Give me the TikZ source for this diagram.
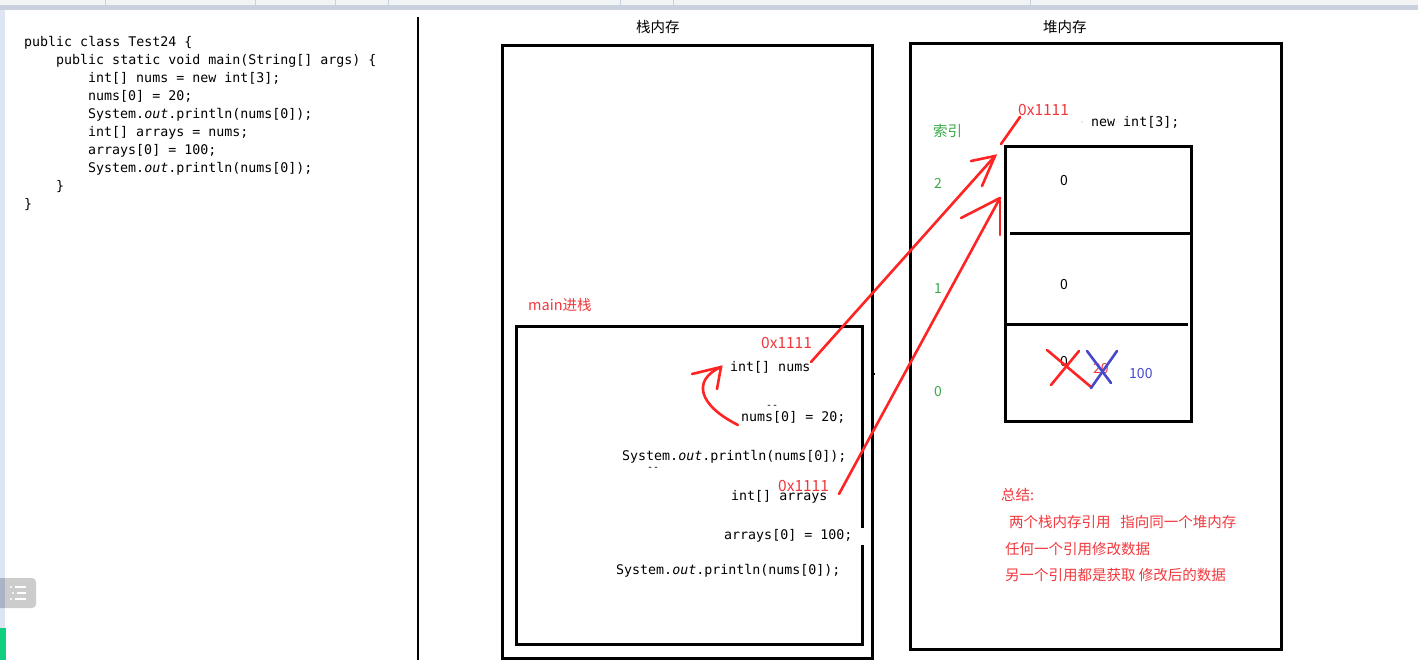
\documentclass[tikz,border=0pt]{standalone}
\usepackage{fontspec}
\setmainfont{Noto Sans CJK SC}
\newfontfamily\codefont{DejaVu Sans Mono}
\newfontfamily\cjkfont{Noto Sans CJK SC}
\definecolor{penred}{HTML}{FF2424}
\definecolor{txtred}{HTML}{F2383C}
\definecolor{idxgreen}{HTML}{3AAA48}
\definecolor{penblue}{HTML}{4848CC}
\definecolor{chromegrey}{HTML}{F2F3F5}
\definecolor{chromeline}{HTML}{C9D1DF}
\definecolor{chromeside}{HTML}{DCE5F1}
\definecolor{chromedark}{HTML}{AAB4C6}
\definecolor{barGreen}{HTML}{10D080}
\tikzset{
  codetxt/.style={font=\codefont\fontsize{13.3}{16}\selectfont, anchor=west, inner sep=0pt, text height=9.5pt, text depth=2.5pt},
  cjktxt/.style={font=\cjkfont\fontsize{14.5}{17}\selectfont, anchor=west, inner sep=0pt, text height=10.5pt, text depth=3pt},
  numtxt/.style={font=\cjkfont\fontsize{14}{17}\selectfont, anchor=west, inner sep=0pt, text height=10pt, text depth=2pt},
  addrtxt/.style={font=\cjkfont\fontsize{15.5}{18}\selectfont, anchor=west, inner sep=0pt, text height=11pt, text depth=2pt, text=txtred},
  dashtxt/.style={font=\codefont\fontsize{10}{12}\selectfont, anchor=west, inner sep=0pt},
  frame/.style={draw=black, line width=3pt},
  pen/.style={draw=penred, line width=2.6pt, line cap=round},
  bluepen/.style={draw=penblue, line width=2.6pt, line cap=round},
}
\begin{document}
\begin{tikzpicture}[x=1pt,y=-1pt]
\useasboundingbox (0,0) rectangle (1418,660);
\fill[white] (0,0) rectangle (1418,660);
% screenshot chrome
\fill[chromegrey] (0,0) rectangle (1418,5);
\fill[chromeline] (0,5) rectangle (1418,10);
\foreach \xx in {105,255,335,388,620,673,1030}
  \draw[chromeline, line width=0.8pt] (\xx,0) -- (\xx,5);
\fill[chromeside] (0,10) rectangle (5,660);
\fill[black!20, rounded corners=4pt] (-6,578) rectangle (36,608);
\fill[chromedark] (0,578) rectangle (5,608);
\foreach \yy/\dx in {587/0,593/2,599/0}{
  \fill[white] (11+\dx,\yy) circle (1.2);
  \draw[white, line width=1.6pt] (15+\dx,\yy) -- (26,\yy);
}
\fill[barGreen] (0,628) rectangle (6,660);

% separator
\draw[black, line width=2.6pt] (418,17) -- (418,660);

% source code
\node[codetxt] (c1) at (24,43) {public class Test24 \{};
\node[codetxt] (c2) at (56,61) {public static void main(String[] args) \{};
\node[codetxt] (c3) at (88,79) {int[] nums = new int[3];};
\node[codetxt] (c4) at (88,97) {nums[0] = 20;};
\node[codetxt] (c5) at (88,115) {System.\textit{out}.println(nums[0]);};
\node[codetxt] (c6) at (88,133) {int[] arrays = nums;};
\node[codetxt] (c7) at (88,151) {arrays[0] = 100;};
\node[codetxt] (c8) at (88,169) {System.\textit{out}.println(nums[0]);};
\node[codetxt] (c9) at (56,187) {\}};
\node[codetxt] (c10) at (24,205) {\}};

% stack memory
\node[cjktxt] (stacklbl) at (636,29) {栈内存};
\draw[frame] (502,46) rectangle (872,658);
\draw[black, line width=1.5pt] (872,374) -- (875,374);
\node[cjktxt, text=txtred] (mainlbl) at (528,307) {main进栈};
\draw[frame] (516,326) rectangle (862,644);
\fill[white] (853,528) rectangle (865,545);

\node[addrtxt] (addr1) at (761,344) {0x1111};
\node[codetxt] (nums) at (730,368) {int[] nums};
\node[dashtxt] (d1) at (766,407) {--};
\node[codetxt] (set20) at (741,418) {nums[0] = 20;};
\node[codetxt] (print1) at (622,457) {System.\textit{out}.println(nums[0]);};
\node[dashtxt] (d2) at (647,469) {--};
\node[codetxt] (arrays) at (731,497) {int[] arrays};
\node[addrtxt] (addr2) at (778,487) {0x1111};
\node[codetxt] (set100) at (724,536) {arrays[0] = 100;};
\node[codetxt] (print2) at (616,571) {System.\textit{out}.println(nums[0]);};

% heap memory
\node[cjktxt] (heaplbl) at (1043,29) {堆内存};
\draw[frame] (910,44) rectangle (1281,649);
\node[cjktxt, text=idxgreen] (idx) at (933,133) {索引};
\node[numtxt, text=idxgreen] (i2) at (934,185) {2};
\node[numtxt, text=idxgreen] (i1) at (934,289) {1};
\node[numtxt, text=idxgreen] (i0) at (934,392) {0};
\node[addrtxt] (addr3) at (1018,111) {0x1111};
\node[codetxt] (newarr) at (1091,123) {new int[3];};
\fill[chromeline] (1082,122) circle (0.8);
\draw[frame] (1005,147) rectangle (1191,421);
\draw[frame] (1010,234) -- (1191,234);
\draw[frame] (1005,324) -- (1188,324);
\node[numtxt] (v2) at (1060,182) {0};
\node[numtxt] (v1) at (1060,286) {0};
\node[numtxt] (v0) at (1060,362) {0};
\node[numtxt, text=txtred] (v20) at (1093,369) {20};
\node[numtxt, text=penblue] (v100) at (1129,374) {100};
% crossings
\draw[pen] (1047,350) -- (1091,387);
\draw[pen] (1079,351) -- (1051,385);
\draw[bluepen] (1087,351) -- (1111,383);
\draw[bluepen] (1117,351) -- (1091,388);

% reference arrows
\coordinate (n1s) at (811,362);
\coordinate (n1t) at (995,156);
\coordinate (n2s) at (839,494);
\coordinate (n2t) at (1000,198);
\draw[pen] (n1s) -- (n1t);
\draw[pen] (971,161) -- (n1t) -- (982,186);
\draw[pen] (1001,144) -- (1020,117);
\draw[pen] (n2s) -- (n2t);
\draw[pen] (961,218) -- (n2t);
\draw[pen] (1000,201) -- (1000,235);
% curved arrow
\coordinate (cs) at (738,425);
\coordinate (ct) at (721,367);
\draw[pen] (cs) .. controls (698,405) and (692,380) .. (ct);
\draw[pen] (692,374) -- (ct) -- (717,389);

% summary
\node[cjktxt, text=txtred] (sum0) at (1001,497) {总结:};
\node[cjktxt, text=txtred] (sum1) at (1009,524) {两个栈内存引用\ \ \ 指向同一个堆内存};
\node[cjktxt, text=txtred] (sum2) at (1005,551) {任何一个引用修改数据};
\node[cjktxt, text=txtred] (sum3) at (1005,577) {另一个引用都是获取 修改后的数据};
\end{tikzpicture}
\end{document}
